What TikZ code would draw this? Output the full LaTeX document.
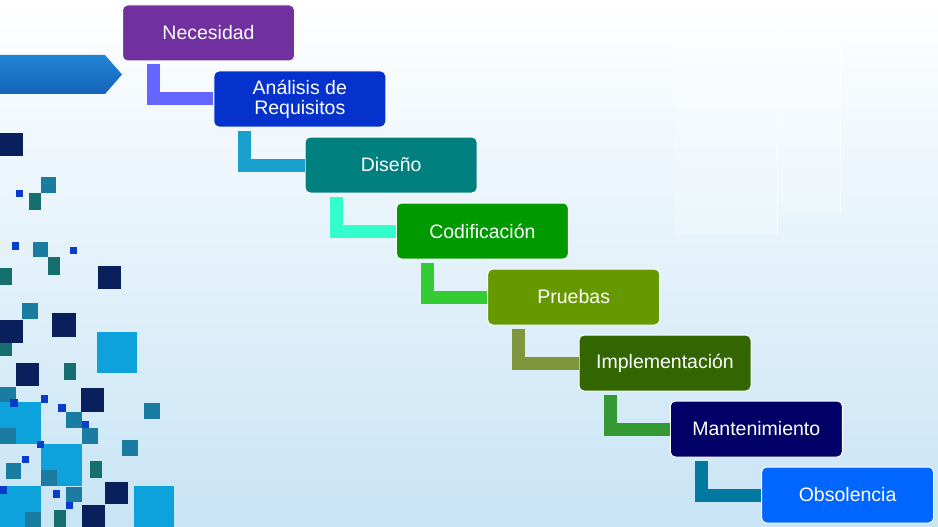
\documentclass[tikz,border=0pt]{standalone}
\usepackage{fontspec}
\setmainfont{Liberation Sans}
\usetikzlibrary{calc}
\definecolor{bgbot}{RGB}{200,228,245}
\definecolor{arrtop}{RGB}{34,132,212}
\definecolor{arrbot}{RGB}{20,100,184}
\definecolor{sqnavy}{RGB}{10,32,92}
\definecolor{sqteal}{RGB}{23,110,110}
\definecolor{sqtb}{RGB}{26,124,160}
\definecolor{sqlb}{RGB}{14,162,220}
\definecolor{sqblue}{RGB}{10,60,204}
\definecolor{cb0}{RGB}{112,48,160}
\definecolor{cb1}{RGB}{5,50,204}
\definecolor{cb2}{RGB}{0,127,127}
\definecolor{cb3}{RGB}{0,153,0}
\definecolor{cb4}{RGB}{102,153,0}
\definecolor{cb5}{RGB}{51,102,0}
\definecolor{cb6}{RGB}{0,0,102}
\definecolor{cb7}{RGB}{0,102,255}
\definecolor{cc1}{RGB}{102,102,255}
\definecolor{cc2}{RGB}{25,160,205}
\definecolor{cc3}{RGB}{51,255,204}
\definecolor{cc4}{RGB}{51,204,51}
\definecolor{cc5}{RGB}{128,150,60}
\definecolor{cc6}{RGB}{51,153,51}
\definecolor{cc7}{RGB}{0,120,160}
\begin{document}
\begin{tikzpicture}[x=1pt,y=-1pt,
  box/.style={draw=white, line width=1pt, rounded corners=5pt, minimum width=172pt,
    minimum height=56pt, inner sep=0pt, text=white, align=center,
    font=\fontsize{19.5}{20}\selectfont},
  conn/.style={line width=13pt, line join=miter}]
\useasboundingbox (0,0) rectangle (938,527);
\shade[top color=white, bottom color=bgbot] (0,0) rectangle (938,527);
% faint panels top right
\fill[white, opacity=0.2] (675,20) rectangle (777,235);
\fill[white, opacity=0.2] (778,12) rectangle (840,213);
\draw[white, opacity=0.7, line width=1pt] (777,20) -- (777,235);
\draw[white, opacity=0.7, line width=1pt] (840,45) -- (840,213);
% left arrow
\shade[top color=arrtop, bottom color=arrbot] (0,55) -- (105,55) -- (122,74.5) -- (105,94) -- (0,94) -- cycle;
% squares
\foreach \a/\b/\c/\d in {97/332/137/373, 0/402/41/444, 41/444/82/486, 0/486/41/527, 134/486/174/527}
  \fill[sqlb] (\a,\b) rectangle (\c,\d);
\foreach \a/\b/\c/\d in {41/177/56/193, 33/242/48/257, 22/303/38/319, 0/387/16/402, 66/412/82/428,
  82/428/98/444, 0/428/16/444, 144/403/160/419, 122/440/138/456, 6/463/21/479, 41/470/57/486,
  66/487/82/502, 25/512/41/527}
  \fill[sqtb] (\a,\b) rectangle (\c,\d);
\foreach \a/\b/\c/\d in {29/193/41/210, 48/257/60/275, 0/268/12/285, 0/338/12/356, 64/363/76/380,
  90/461/102/478, 54/510/66/527}
  \fill[sqteal] (\a,\b) rectangle (\c,\d);
\foreach \a/\b/\c/\d in {0/133/23/156, 98/266/121/289, 0/320/23/343, 52/313/76/337, 16/363/39/386,
  81/388/104/412, 105/482/128/504, 82/505/105/527}
  \fill[sqnavy] (\a,\b) rectangle (\c,\d);
\foreach \a/\b/\c/\d in {16/190/23/197, 12/242/19/250, 70/247/77/254, 10/399/18/407, 41/395/48/403,
  58/404/66/412, 82/421/89/428, 37/441/44/448, 22/456/29/463, 0/486/7/494, 53/490/60/498, 66/502/73/509}
  \fill[sqblue] (\a,\b) rectangle (\c,\d);
% boxes
\node[box, fill=cb0] (n0) at (208.5,33) {Necesidad};
\node[box, fill=cb1] (n1) at (299.8,99) {Análisis de\\Requisitos};
\node[box, fill=cb2] (n2) at (391.1,165) {Diseño};
\node[box, fill=cb3] (n3) at (482.4,231) {Codificación};
\node[box, fill=cb4] (n4) at (573.7,297) {Pruebas};
\node[box, fill=cb5] (n5) at (665.0,363) {Implementación};
\node[box, fill=cb6] (n6) at (756.3,429) {Mantenimiento};
\node[box, fill=cb7] (n7) at (847.6,495) {Obsolencia};
% connectors
\draw[conn, draw=cc1] ($(n0.south west)+(31.5,3)$) |- (n1.west);
\draw[conn, draw=cc2] ($(n1.south west)+(31.5,3)$) |- (n2.west);
\draw[conn, draw=cc3] ($(n2.south west)+(31.5,3)$) |- (n3.west);
\draw[conn, draw=cc4] ($(n3.south west)+(31.5,3)$) |- (n4.west);
\draw[conn, draw=cc5] ($(n4.south west)+(31.5,3)$) |- (n5.west);
\draw[conn, draw=cc6] ($(n5.south west)+(31.5,3)$) |- (n6.west);
\draw[conn, draw=cc7] ($(n6.south west)+(31.5,3)$) |- (n7.west);
\end{tikzpicture}
\end{document}
